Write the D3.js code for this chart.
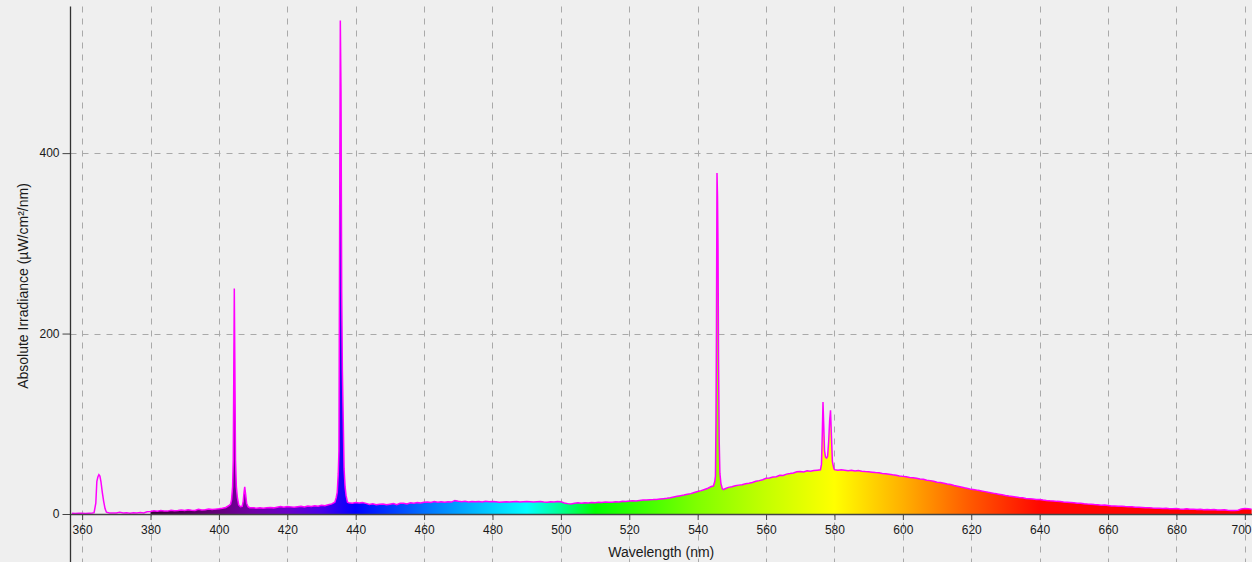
<!DOCTYPE html>
<html>
<head>
<meta charset="utf-8">
<script src="https://cdn.jsdelivr.net/npm/d3@7"></script>
<style>
  html, body { margin: 0; padding: 0; background: #efefef; }
  svg { display: block; }
</style>
</head>
<body>
<svg id="chart" width="1252" height="562"></svg>
<script>
// Continuum irradiance (µW/cm²/nm), one sample per nm starting at 357 nm
const continuumStartNm = 357;
const continuum = [
  0.8,0.6,0.9,0.7,0.5,0.8,1.0,2.0,30,35,4,1.2,1.2,1.0,1.8,1.2,1.5,0.9,1.4,1.1,1.6,1.2,2.4,2.8,
  3.5,3.0,3.9,3.4,3.2,4.1,3.6,3.8,4.5,3.9,4.6,4.2,4.0,5.3,4.4,4.8,5.6,4.9,5.4,5.8,6.3,7.2,9.5,15,60,9,9,20,7.5,6.8,
  6.5,7.0,6.4,6.9,7.3,6.8,7.6,8.2,7.5,8.4,7.9,7.4,8.0,8.6,7.8,8.9,8.3,9.1,8.7,9.6,9.2,10.3,11.2,14,60,247,16,
  12.5,12.0,12.8,12.2,12.6,11.8,10.6,11.3,10.2,10.8,
  11.0,10.3,10.9,11.5,10.4,11.8,12.0,11.2,12.4,11.9,
  12.6,12.1,12.9,13.4,12.7,13.8,13.1,13.5,12.9,13.6,
  13.2,14.8,14.1,13.6,14.2,13.4,13.9,13.5,13.8,13.3,
  14.0,13.6,13.9,13.5,12.9,13.4,13.6,13.2,13.7,13.9,
  13.4,13.6,13.8,13.5,13.2,13.6,13.9,13.4,13.1,13.5,
  13.3,13.8,13.6,
  12.2,11.5,11.0,11.8,12.4,11.9,12.5,12.2,12.8,12.6,
  13.0,12.7,13.2,12.9,13.1,13.6,13.3,14.0,13.8,14.4,
  14.6,14.3,14.9,15.5,15.6,15.9,16.0,16.2,16.6,17.0,
  17.4,17.9,18.8,19.6,20.3,21.0,21.8,22.6,23.8,25.0,
  25.9,27.2,28.5,30.5,36,
  200,28,28,29.5,30.3,
  31.2,32.0,32.4,33.5,34.2,35.0,36.2,37.0,37.9,39.5,
  39.8,40.9,41.3,43.0,42.6,44.2,44.8,45.5,46.8,47.0,
  46.5,47.8,47.4,48.2,48.6,50,64,66,75,49.2,
  48.4,49.0,48.6,48.0,48.5,47.6,48.1,47.5,47.0,46.8,
  46.4,46.0,45.7,45.0,44.6,44.0,43.4,42.9,42.2,41.7,
  41.2,40.5,40.2,39.6,38.9,38.4,37.5,37.0,36.2,35.2,
  34.8,34.0,33.2,32.6,31.5,30.8,29.9,29.0,28.3,27.3,
  27.0,26.2,25.6,24.8,24.0,23.4,22.6,22.0,21.3,20.6,
  20.0,19.5,18.9,18.2,18.0,17.3,17.0,16.6,16.2,16.0,
  15.4,15.0,14.7,14.5,14.0,13.8,13.2,13.0,12.8,12.5,
  12.0,11.8,11.3,11.0,10.9,10.4,10.2,9.8,9.9,9.5,
  9.0,8.8,8.6,8.7,8.2,7.9,8.0,7.5,7.4,7.2,
  6.8,7.0,6.6,6.4,6.5,6.1,6.3,5.8,5.9,6.1,
  5.6,5.4,5.7,5.2,5.4,5.0,5.3,4.8,5.0,4.7,
  4.9,4.5,4.4,4.7,4.2,4.0,3.8,4.1,5.5,6.0,
  5.8,5.4
];

// Finely sampled emission lines (Hg 365, 405/408, 436, 546, 577/579)
const emissionNm = [
  363.5,364.0,364.3,364.6,364.9,365.2,365.5,365.9,366.3,366.7,367.1,
  403.4,403.7,404.0,404.2,404.35,404.5,404.65,404.85,405.1,405.4,405.8,406.3,406.8,407.1,407.35,407.55,407.8,408.1,408.5,409.0,
  433.9,434.3,434.6,434.9,435.1,435.3,435.5,435.7,435.9,436.1,436.35,436.6,436.9,437.2,437.6,
  544.6,545.0,545.2,545.35,545.5,545.65,545.8,545.95,546.1,546.3,546.5,546.8,547.2,547.6,548.0,
  575.9,576.2,576.45,576.65,576.85,577.1,577.4,577.7,578.0,578.3,578.6,578.85,579.1,579.4,579.8
];
const emissionValue = [
  1.5,12,36,41,43.5,42,36,24,14,6,2,
  11,16,30,60,157,250,172,60,30,18,10,8,8.5,14,24,30,22,12,8,7,
  13,18,24,45,70,312,547,470,247,160,105,50,30,20,13,
  31,36,42,100,210,378,353,295,173,80,45,34,28,27,28,
  49,55,90,124,100,70,63,62,64,80,104,115,88,58,51
];

const xTickValues = [360,380,400,420,440,460,480,500,520,540,560,580,600,620,640,660,680,700];
const yTickValues = [0,200,400];

// Spectral fill colour stops (wavelength in nm -> colour)
const spectrumStopNm =    [380,      390,      400,      410,      420,      430,      440,      460,      480,      490,      500,      510,      540,      560,      580,      600,      620,      640,      700];
const spectrumStopColor = ["#380038","#4e0058","#66007c","#7000a6","#6800c8","#4800e8","#0000ff","#0070ff","#00d0ff","#00ffff","#00ff90","#00ff00","#80ff00","#c4ff00","#ffff00","#ffb000","#ff5800","#ff0800","#ff0000"];

const W = 1252, H = 562;
const plotLeft = 70.5, plotRight = 1252, plotTop = 6.5, plotBottom = 514;

const svg = d3.select("#chart");

const x = d3.scaleLinear().domain([356.6, 702.1]).range([plotLeft, plotRight]);
const y = d3.scaleLinear().domain([0, 562.5]).range([plotBottom, plotTop]);

// Build the merged spectrum
const lineSamples = emissionNm.map((w, i) => ({ w, v: emissionValue[i] }));
const clusters = [];
lineSamples.forEach(p => {
  const c = clusters[clusters.length - 1];
  if (c && p.w - c.hi < 1) c.hi = p.w; else clusters.push({ lo: p.w, hi: p.w });
});
const cont = continuum
  .map((v, i) => ({ w: continuumStartNm + i, v }))
  .filter(p => !clusters.some(c => p.w >= c.lo && p.w <= c.hi));
const spectrum = cont.concat(lineSamples).sort((a, b) => a.w - b.w);

svg.append("rect").attr("width", W).attr("height", H).attr("fill", "#efefef");

// Gradient across the visible band
const defs = svg.append("defs");
const g0 = x(380), g1 = x(702);
const grad = defs.append("linearGradient")
  .attr("id", "visible-band")
  .attr("gradientUnits", "userSpaceOnUse")
  .attr("x1", g0).attr("x2", g1).attr("y1", 0).attr("y2", 0);
spectrumStopNm.forEach((w, i) => {
  grad.append("stop")
    .attr("offset", (x(w) - g0) / (g1 - g0))
    .attr("stop-color", spectrumStopColor[i]);
});
defs.append("clipPath").attr("id", "plot-clip")
  .append("rect").attr("x", plotLeft).attr("y", 0).attr("width", plotRight - plotLeft).attr("height", plotBottom + 0.5);

// Grid
const grid = svg.append("g").attr("stroke", "#a9a9a9").attr("stroke-width", 1).attr("stroke-dasharray", "6,6");
xTickValues.forEach(t => {
  const px = Math.round(x(t)) + 0.5;
  grid.append("line").attr("x1", px).attr("x2", px).attr("y1", plotTop).attr("y2", H);
});
yTickValues.filter(t => t > 0).forEach(t => {
  const py = Math.round(y(t)) + 0.5;
  grid.append("line").attr("x1", plotLeft).attr("x2", plotRight).attr("y1", py).attr("y2", py);
});

// Spectrum fill and outline
const plot = svg.append("g").attr("clip-path", "url(#plot-clip)");
plot.append("path")
  .datum(spectrum.filter(d => d.w >= 380))
  .attr("fill", "url(#visible-band)")
  .attr("d", d3.area().x(d => x(d.w)).y0(y(0)).y1(d => y(d.v)));
plot.append("path")
  .datum(spectrum)
  .attr("fill", "none")
  .attr("stroke", "#ff00ff")
  .attr("stroke-width", 1.5)
  .attr("stroke-linejoin", "miter")
  .attr("d", d3.line().x(d => x(d.w)).y(d => y(d.v)));

// Axes
const font = "'Liberation Sans', Arial, sans-serif";
const xAxis = svg.append("g")
  .attr("transform", `translate(0,${plotBottom})`)
  .call(d3.axisBottom(x).tickValues(xTickValues).tickSize(6).tickPadding(5).tickFormat(d3.format("d")));
xAxis.select(".domain").remove();
xAxis.append("line").attr("x1", plotLeft).attr("x2", plotRight).attr("y1", 0.5).attr("y2", 0.5)
  .attr("stroke", "#444").attr("stroke-width", 1.6);
xAxis.selectAll(".tick line").attr("stroke", "#444");
xAxis.selectAll("text").attr("fill", "#1a1a1a").style("font", `12px ${font}`);
// keep the last label inside the right edge
xAxis.selectAll(".tick").filter(d => d === 700).select("text")
  .attr("text-anchor", "end").attr("x", plotRight - 1 - x(700));

const yAxis = svg.append("g")
  .attr("transform", `translate(${plotLeft},0)`)
  .call(d3.axisLeft(y).tickValues(yTickValues).tickSize(8).tickPadding(3).tickFormat(d3.format("d")));
yAxis.select(".domain").remove();
yAxis.append("line").attr("x1", 0).attr("x2", 0).attr("y1", plotTop).attr("y2", H)
  .attr("stroke", "#333").attr("stroke-width", 1.3);
yAxis.selectAll(".tick line").attr("stroke", "#444");
yAxis.selectAll("text").attr("fill", "#1a1a1a").style("font", `12px ${font}`);

// Axis titles
svg.append("text")
  .attr("x", (plotLeft + plotRight) / 2).attr("y", 552)
  .attr("text-anchor", "middle").attr("dominant-baseline", "central")
  .attr("fill", "#1a1a1a").style("font", `14px ${font}`)
  .text("Wavelength (nm)");
svg.append("text")
  .attr("transform", "translate(23,286) rotate(-90)")
  .attr("text-anchor", "middle").attr("dominant-baseline", "central")
  .attr("fill", "#1a1a1a").style("font", `14px ${font}`)
  .text("Absolute Irradiance (µW/cm²/nm)");
</script>
</body>
</html>
